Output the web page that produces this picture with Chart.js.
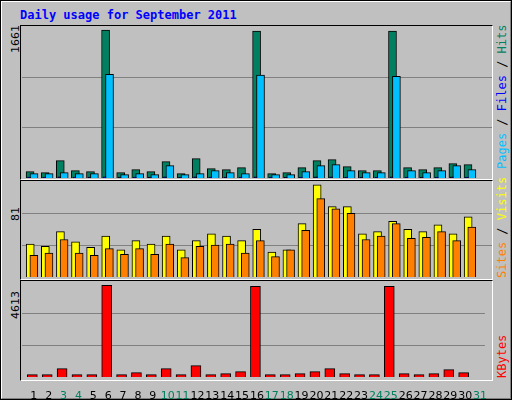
<!DOCTYPE html>
<html><head><meta charset="utf-8">
<script src="https://cdn.jsdelivr.net/npm/chart.js@4"></script>
<style>
body{margin:0;background:#fff}
#wrap{position:relative;width:510px;height:398px;background:#c0c0c0;border:1px solid #000;overflow:hidden}
#inner{position:absolute;left:0;top:0;width:508px;height:396px;border-top:1px solid #fff;border-left:1px solid #fff;border-right:1px solid #808080;border-bottom:1px solid #808080}
.title{position:absolute;left:19px;top:7px;font:bold 12px "DejaVu Sans Mono",monospace;color:#0000ff}
.panel{position:absolute;left:19px;width:471px;border-top:1px solid #000;border-left:1px solid #000;border-right:1px solid #fff;border-bottom:1px solid #fff}
canvas{position:absolute}
.rl{position:absolute;transform-origin:left top;transform:rotate(-90deg);white-space:nowrap;font:12px "DejaVu Sans Mono",monospace}
.ll{position:absolute;transform-origin:left top;transform:rotate(-90deg);white-space:nowrap;font:11px "DejaVu Sans",sans-serif;color:#000}
</style></head>
<body>
<div id="wrap"><div id="inner"></div>
<div class="title">Daily usage for September 2011</div>
<div class="panel" style="top:24px;height:153px"></div>
<div class="panel" style="top:179px;height:98px"></div>
<div class="panel" style="top:279px;height:99px"></div>
<canvas id="c1" style="left:21px;top:26px"></canvas>
<canvas id="c2" style="left:21px;top:181px"></canvas>
<canvas id="c3" style="left:21px;top:281px"></canvas>
<div class="ll" style="left:8px;top:52px">1661</div>
<div class="ll" style="left:8px;top:220px">81</div>
<div class="ll" style="left:8px;top:318px">4613</div>
<div class="rl" style="left:494px;top:168px"><span style="color:#00c0ff">Pages</span> / <span style="color:#0000ff">Files</span> / <span style="color:#008060">Hits</span></div>
<div class="rl" style="left:494px;top:277px"><span style="color:#ff8000">Sites</span> / <span style="color:#ffff00">Visits</span></div>
<div class="rl" style="left:494px;top:377px"><span style="color:#ff0000">KBytes</span></div>
</div>
<script>
const days = Array.from({length: 31}, (_, i) => i + 1);
const weekendDays = [3, 4, 10, 11, 17, 18, 24, 25, 31];
const hits = [71,60,195,83,71,1661,60,94,71,184,49,218,105,94,116,1650,49,60,116,195,207,128,83,83,1650,116,94,116,162,150];
const files = [49,49,60,49,49,1165,38,49,38,139,38,49,83,60,49,1154,38,38,71,139,150,83,60,60,1142,83,60,83,139,94];
const pages = [10,10,12,10,10,14,10,10,10,12,10,12,10,10,10,14,10,10,10,12,12,10,10,10,14,10,10,10,12,10];
const visits = [29,27,40,31,26,36,24,32,29,36,24,32,38,36,32,42,22,24,47,81,62,62,38,40,49,42,40,46,38,53];
const sites = [19,21,33,21,19,25,20,25,20,29,17,27,28,29,21,32,18,24,41,69,60,56,33,36,47,34,35,40,32,44];
const kbytes = [118,118,421,118,118,4613,118,219,118,421,118,572,118,168,269,4562,118,118,168,269,421,168,118,118,4562,168,118,168,370,219];

const W = 470;
function pts(arr, off) { return arr.map((v, i) => ({x: days[i] + off, y: v})); }
// lower order = drawn on top
function ds(arr, off, color, w, order) {
  return {data: pts(arr, off), backgroundColor: color, borderColor: '#000', borderWidth: 1,
    barThickness: w, grouped: false, borderSkipped: 'bottom', order: order};
}
function make(id, h, max, sets, showX) {
  const c = document.getElementById(id);
  c.width = W; c.height = h; c.style.width = W + 'px'; c.style.height = h + 'px';
  return new Chart(c, {
    type: 'bar',
    data: {datasets: sets},
    options: {
      responsive: false, animation: false, devicePixelRatio: 1,
      layout: {padding: 0},
      plugins: {legend: {display: false}, tooltip: {enabled: false}},
      scales: {
        x: {type: 'linear', min: 0.205, max: 31.33, offset: false,
          grid: {display: false}, border: {display: false},
          display: showX,
          afterBuildTicks: s => { s.ticks = days.map(d => ({value: d})); },
          afterFit: s => { if (showX) s.height = 22; },
          ticks: {autoSkip: false, maxRotation: 0, padding: 5, font: {family: 'DejaVu Sans', size: 11},
            color: ctx => weekendDays.includes(ctx.tick.value) ? '#008060' : '#000',
            callback: v => String(v)}},
        y: {min: 0, max: max,
          border: {display: false},
          grid: {color: '#808080', lineWidth: 1, drawTicks: false},
          afterBuildTicks: s => { s.ticks = [{value: max / 3}, {value: max * 2 / 3}]; },
          afterFit: s => { s.width = 0; },
          ticks: {display: false}}
      }
    }
  });
}
make('c1', 151, 1695, [ds(hits, -0.26, '#008060', 8, 2), ds(files, 0, '#00c0ff', 8, 1), ds(pages, -0.33, '#0000c0', 3, 0)], false);
make('c2', 95, 83.6, [ds(visits, -0.25, '#ffff00', 8, 1), ds(sites, -0.01, '#ff8000', 8, 0)], false);
make('c3', 117, 4779, [ds(kbytes, -0.1, '#ff0000', 10, 0)], true);
</script>
</body></html>
